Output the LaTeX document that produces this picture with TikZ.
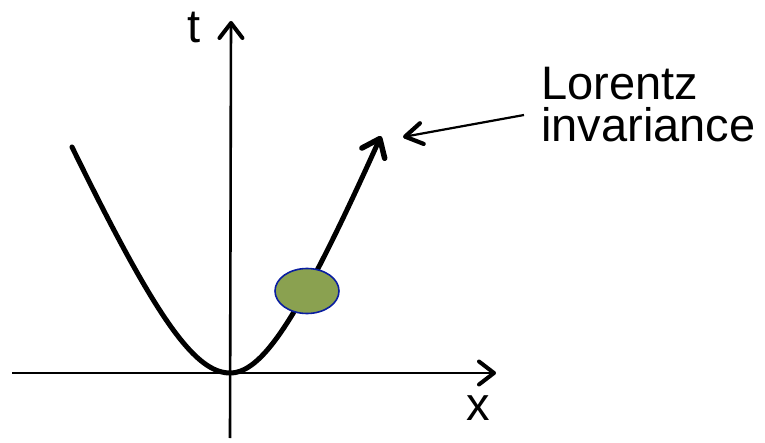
\documentclass[tikz,border=0pt]{standalone}
\usepackage{fontspec}
\setmainfont{Liberation Sans}
\usetikzlibrary{arrows.meta,shapes.geometric}
\definecolor{olivefill}{RGB}{138,161,80}
\definecolor{blobedge}{RGB}{10,30,160}
\tikzset{
  axis/.style={line width=2.6pt, -{Straight Barb[length=15pt,width=23pt,line width=4pt,line cap=round,line join=round]}},
  curve/.style={line width=5pt, line cap=round},
  pointer/.style={line width=2.2pt, -{Straight Barb[length=17pt,width=21pt,line width=4.2pt,line cap=round,line join=round]}},
  lbl/.style={inner sep=0pt, font=\fontsize{47}{42}\selectfont},
}
\begin{document}
\begin{tikzpicture}[x=1pt,y=-1pt]
\useasboundingbox (0,0) rectangle (765,443);
% axes
\coordinate (xs) at (12,373);
\coordinate (xe) at (496,373);
\coordinate (ts) at (230,438);
\coordinate (te) at (231,21);
\draw[axis] (xs) -- (xe);
\draw[axis] (ts) -- (te);
% hyperbola
\draw[curve] plot[domain=-1.58:0, samples=60, smooth] ({230+100*\x},{373-100*(sqrt(2.89+5.124*\x*\x)-1.7)});
\draw[curve, -{Straight Barb[length=16pt,width=25pt,line width=5.5pt,line cap=round,line join=round]}] plot[domain=0:1.51, samples=60, smooth] ({230+100*\x},{373-100*(sqrt(2.89+5.997*\x*\x)-1.7)});
% blob
\node[ellipse, draw=blobedge, line width=1.6pt, fill=olivefill, minimum width=64pt, minimum height=45pt, inner sep=0pt] (blob) at (307,291) {};
% labels
\node[lbl, anchor=base west] (tl) at (187,43) {t};
\node[lbl, anchor=base west] (xl) at (466,420) {x};
\node[lbl, anchor=base west, align=left] (lor) at (541,142) {Lorentz\\invariance};
% pointer
\coordinate (ps) at (524,115);
\coordinate (pe) at (403,137);
\draw[pointer] (ps) -- (pe);
\end{tikzpicture}
\end{document}
